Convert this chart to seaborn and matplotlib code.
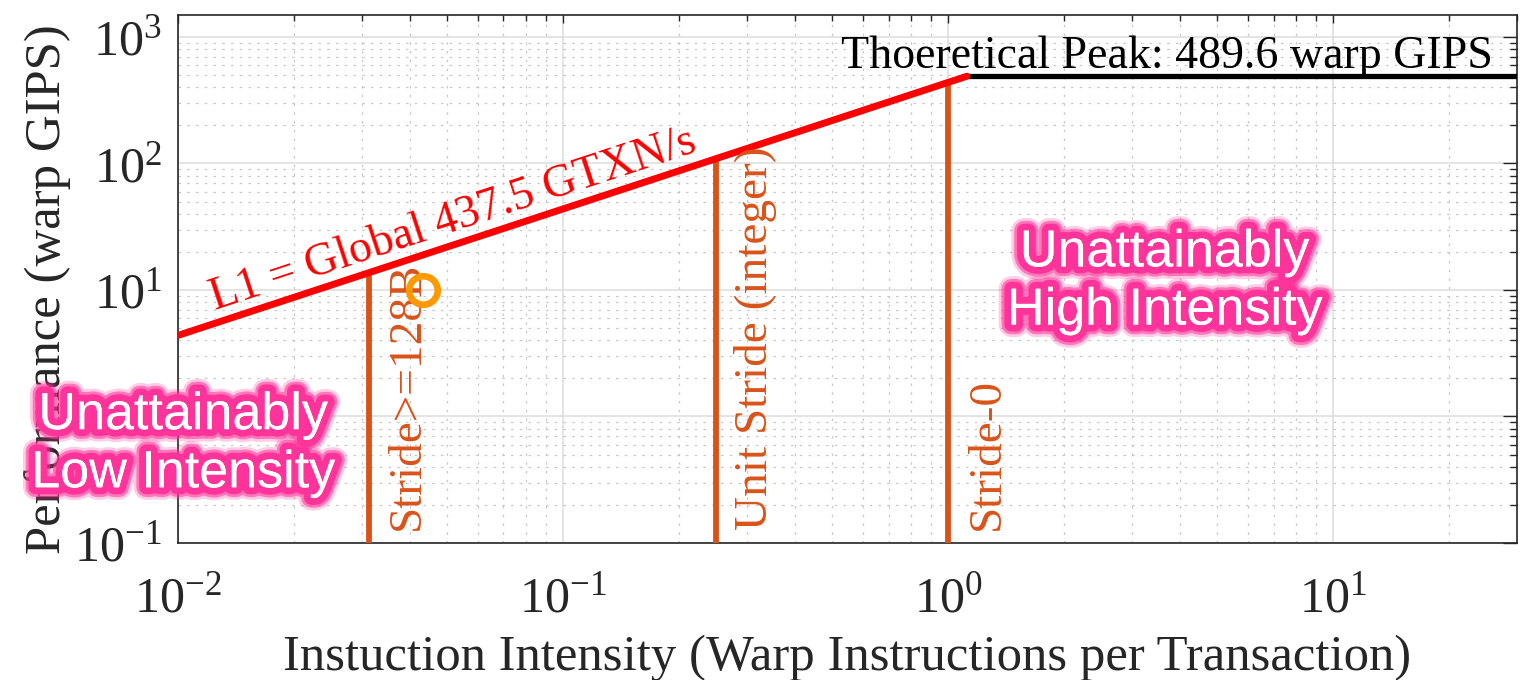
import numpy as np
import pandas as pd
import matplotlib
matplotlib.use("Agg")
import matplotlib.pyplot as plt
import matplotlib.patheffects as pe
from matplotlib.ticker import LogLocator, NullFormatter
import seaborn as sns

# ---- data ----
x_limits = [0.01, 30.0]
y_limits = [0.1, 1500.0]
l1_bandwidth = 437.5          # GTXN/s
peak_gips = 489.6             # warp GIPS
stride_labels = ["Stride>=128B", "Unit Stride (integer)", "Stride-0"]
stride_intensity = [1 / 32, 1 / 4, 1.0]
kernel_intensity = [0.0433]
kernel_gips = [10.0]

# ---- style ----
sns.set_theme(style="white")
plt.rcParams["font.family"] = ["Liberation Serif", "DejaVu Serif"]
plt.rcParams["mathtext.fontset"] = "custom"
plt.rcParams["mathtext.rm"] = "Liberation Serif"
plt.rcParams["mathtext.it"] = "Liberation Serif:italic"
plt.rcParams["mathtext.bf"] = "Liberation Serif:bold"

text_gray = "#262626"
stride_color = "#D95319"
glow_pink = "#FF3399"
fs = 33

fig = plt.figure(figsize=(15.22, 6.8), dpi=100)
ax = fig.add_axes([0.117, 0.2015, 0.8797, 0.7769])
ax.set_xscale("log")
ax.set_yscale("log")
ax.set_xlim(*x_limits)
ax.set_ylim(*y_limits)

# ---- roofline ----
ridge = peak_gips / l1_bandwidth
mem_roof = pd.DataFrame({"x": [x_limits[0], ridge],
                         "y": [l1_bandwidth * x_limits[0], l1_bandwidth * ridge]})
cmp_roof = pd.DataFrame({"x": [ridge, x_limits[1]], "y": [peak_gips, peak_gips]})
sns.lineplot(data=cmp_roof, x="x", y="y", ax=ax, color="black", lw=3.8,
             estimator=None, sort=False, solid_capstyle="round", zorder=4)
sns.lineplot(data=mem_roof, x="x", y="y", ax=ax, color="red", lw=5.0,
             estimator=None, sort=False, solid_capstyle="round", zorder=5)

# ---- stride ceilings ----
for name, ai in zip(stride_labels, stride_intensity):
    top = min(l1_bandwidth * ai, peak_gips)
    seg = pd.DataFrame({"x": [ai, ai], "y": [y_limits[0], top]})
    sns.lineplot(data=seg, x="x", y="y", ax=ax, color=stride_color, lw=4.2,
                 estimator=None, sort=False, solid_capstyle="butt", zorder=3)
    ax.annotate(name, xy=(ai, y_limits[0]), xycoords="data",
                xytext=(36.5, 9.5), textcoords="offset points",
                rotation=90, rotation_mode="anchor", ha="left", va="baseline",
                color=stride_color, fontsize=34, zorder=6)

# ---- measured kernel ----
kernel = pd.DataFrame({"x": kernel_intensity, "y": kernel_gips})
sns.lineplot(data=kernel, x="x", y="y", ax=ax, estimator=None, sort=False,
             linestyle="", marker="o", zorder=7)
kernel_line = ax.lines[-1]
kernel_line.set_markersize(20.5)
kernel_line.set_markerfacecolor("none")
kernel_line.set_markeredgecolor("#FF9900")
kernel_line.set_markeredgewidth(4.8)

# ---- roof labels ----
p0 = ax.transData.transform((0.01, l1_bandwidth * 0.01))
p1 = ax.transData.transform((1.0, l1_bandwidth * 1.0))
angle = np.degrees(np.arctan2(p1[1] - p0[1], p1[0] - p0[0]))
ax.text(0.0125, 6.9, f"L1 = Global {l1_bandwidth} GTXN/s", color="red",
        fontsize=fs, rotation=angle, rotation_mode="anchor",
        ha="left", va="baseline", zorder=6)
ax.text(26.0, 566, f"Thoeretical Peak: {peak_gips} warp GIPS", color="black",
        fontsize=fs, ha="right", va="baseline", zorder=6)

# ---- glowing region labels ----
glow = [
    pe.withStroke(linewidth=18, foreground=glow_pink, alpha=0.25),
    pe.withStroke(linewidth=14, foreground=glow_pink, alpha=0.55),
    pe.withStroke(linewidth=10, foreground=glow_pink),
    pe.Normal(),
]
for label, xy in [("Unattainably\nLow Intensity", (0.004, 0.186)),
                  ("Unattainably\nHigh Intensity", (0.737, 0.494))]:
    ax.text(*xy, label, transform=ax.transAxes, color="white",
            family=["Liberation Sans", "DejaVu Sans"], fontsize=37.5,
            ha="center", va="center", multialignment="center",
            linespacing=1.24, path_effects=glow, clip_on=False, zorder=8)

# ---- axes, ticks, grid ----
ax.xaxis.set_major_locator(LogLocator(base=10, numticks=20))
ax.yaxis.set_major_locator(LogLocator(base=10, numticks=20))
ax.xaxis.set_minor_locator(LogLocator(base=10, subs=np.arange(2, 10), numticks=50))
ax.yaxis.set_minor_locator(LogLocator(base=10, subs=np.arange(2, 10), numticks=50))
ax.xaxis.set_minor_formatter(NullFormatter())
ax.yaxis.set_minor_formatter(NullFormatter())

ax.grid(which="major", color="#DCDCDC", lw=1.1, ls="-", zorder=0)
ax.grid(which="minor", color="#C8C8C8", lw=0.9, ls=(0, (2, 5)), zorder=0)
ax.set_axisbelow(True)

for s in ax.spines.values():
    s.set_visible(True)
    s.set_color(text_gray)
    s.set_linewidth(1.2)

ax.tick_params(axis="both", which="both", direction="in", top=True, right=True,
               colors=text_gray, labelcolor=text_gray, width=1.0)
ax.tick_params(axis="x", which="major", length=6, pad=24, labelsize=36)
ax.tick_params(axis="x", which="minor", length=4)
ax.tick_params(axis="y", which="major", length=10, pad=12, labelsize=36)
ax.tick_params(axis="y", which="minor", length=5)

ax.set_xlabel("Instuction Intensity (Warp Instructions per Transaction)",
              fontsize=36.5, color=text_gray)
ax.set_ylabel("Performance (warp GIPS)", fontsize=36.5, color=text_gray)
ax.xaxis.set_label_coords(0.5, -0.174)
ax.xaxis.label.set_va("top")
ax.yaxis.set_label_coords(-0.08, 0.48)

fig.savefig("out.png", dpi=100)
